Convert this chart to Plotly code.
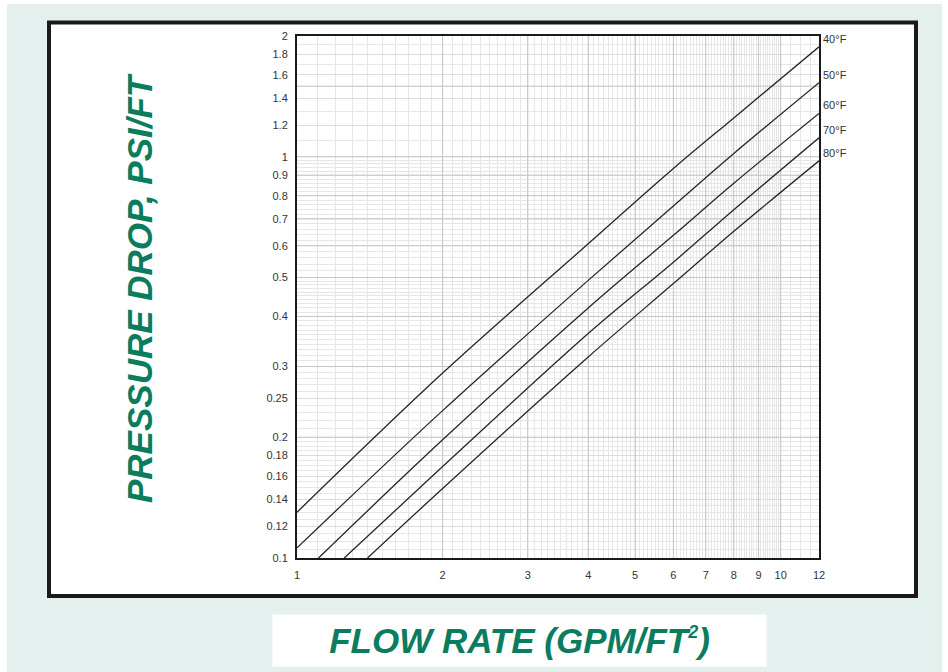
import numpy as np
import plotly.graph_objects as go

# Pressure drop curves (psi/ft) against flow rate (gpm/ft²) for each water temperature
temps = ["40°F", "50°F", "60°F", "70°F", "80°F"]
flow_40 = [1, 2, 4, 6, 8, 12]
dp_40 = [0.130, 0.289, 0.607, 0.935, 1.25, 1.88]
flow_50 = [1, 2, 4, 6, 8, 12]
dp_50 = [0.106, 0.233, 0.492, 0.754, 1.019, 1.53]
flow_60 = [1.108, 2, 4, 6, 8, 12]
dp_60 = [0.1, 0.197, 0.420, 0.637, 0.859, 1.282]
flow_70 = [1.252, 2, 4, 6, 8, 12]
dp_70 = [0.1, 0.169, 0.3625, 0.546, 0.738, 1.115]
flow_80 = [1.399, 2, 4, 6, 8, 12]
dp_80 = [0.1, 0.149, 0.317, 0.483, 0.652, 0.977]

flows = [flow_40, flow_50, flow_60, flow_70, flow_80]
drops = [dp_40, dp_50, dp_60, dp_70, dp_80]

x_ticks = [1, 2, 3, 4, 5, 6, 7, 8, 9, 10, 12]
y_ticks = [0.1, 0.12, 0.14, 0.16, 0.18, 0.2, 0.25, 0.3, 0.4, 0.5, 0.6, 0.7,
           0.8, 0.9, 1, 1.2, 1.4, 1.6, 1.8, 2]
x_range = (1, 12)
y_range = (0.1, 2)

# graph-paper grid levels
x_minor = [v for v in np.round(np.concatenate([np.arange(1.1, 10, 0.1), [10.5, 11, 11.5]]), 3)
           if v not in x_ticks]
y_minor = [v for v in np.round(np.concatenate([np.arange(0.105, 0.2, 0.005),
                                               np.arange(0.21, 0.5, 0.01),
                                               np.arange(0.52, 1.0, 0.02),
                                               np.arange(1.1, 2.0, 0.1)]), 3)
           if v not in y_ticks]
x_heavy = [2, 3, 4, 5, 6, 7, 8, 9, 10]
y_heavy = [0.2, 0.3, 0.4, 0.5, 0.6, 0.7, 0.8, 0.9, 1, 1.5]

W, H = 948, 672
ML, MR, MT, MB = 297, 129, 36, 114
PW, PH = W - ML - MR, H - MT - MB

def px(xp):
    return (xp - ML) / PW

def py(yp):
    return (H - MB - yp) / PH

GREEN = "#0b7c5d"
FONT = "Arial, Liberation Sans, sans-serif"

fig = go.Figure()

# heavier graph-paper rulings at the main divisions
gx, gy = [], []
for v in x_heavy:
    gx += [v, v, None]
    gy += [y_range[0], y_range[1], None]
for v in y_heavy:
    gx += [x_range[0], x_range[1], None]
    gy += [v, v, None]
fig.add_trace(go.Scatter(x=gx, y=gy, mode="lines", line=dict(color="#c6c6c6", width=1),
                         showlegend=False, hoverinfo="skip"))

for f, d in zip(flows, drops):
    fig.add_trace(go.Scatter(x=f, y=d, mode="lines",
                             line=dict(color="#262626", width=1.3, shape="spline", smoothing=1),
                             showlegend=False, hoverinfo="skip"))

shapes = [
    # panel background and framed card
    dict(type="rect", xref="paper", yref="paper", x0=px(7), x1=px(942), y0=py(4), y1=py(680),
         fillcolor="#e4f0ee", line=dict(width=0), layer="below"),
    dict(type="rect", xref="paper", yref="paper", x0=px(49), x1=px(916), y0=py(22.5), y1=py(596),
         fillcolor="white", line=dict(color="#1a1a1a", width=4), layer="below"),
]

annotations = []
for name, f, d in zip(temps, flows, drops):
    annotations.append(dict(x=np.log10(f[-1]), y=np.log10(d[-1]), xref="x", yref="y",
                            text=name, showarrow=False, xanchor="left", yanchor="middle",
                            xshift=2, yshift=8, font=dict(family=FONT, size=11, color="#333")))

annotations.append(dict(
    xref="paper", yref="paper", x=px(139), y=py(288), text="PRESSURE DROP, PSI/FT",
    textangle=-90, showarrow=False, xanchor="center", yanchor="middle",
    font=dict(family=FONT, size=35, color=GREEN, weight="bold", style="italic")))
annotations.append(dict(
    xref="paper", yref="paper", x=px(519.5), y=py(640.5),
    text="FLOW RATE (GPM/FT<sup><span style='font-size:18px'>2</span></sup>)",
    showarrow=False, xanchor="center", yanchor="middle", width=493, height=51,
    bgcolor="white", borderpad=0,
    font=dict(family=FONT, size=35, color=GREEN, weight="bold", style="italic")))

fig.update_layout(
    width=W, height=H, margin=dict(l=ML, r=MR, t=MT, b=MB),
    paper_bgcolor="white", plot_bgcolor="white",
    shapes=shapes, annotations=annotations,
    xaxis=dict(type="log", range=[np.log10(x_range[0]), np.log10(x_range[1])],
               tickvals=x_ticks, ticktext=[str(v) for v in x_ticks],
               showgrid=True, gridcolor="#dcdcdc", gridwidth=1,
               minor=dict(tickvals=x_minor, showgrid=True, gridcolor="#e6e6e6", gridwidth=1, ticks=""),
               showline=True, linecolor="#1a1a1a", linewidth=2, mirror=True,
               ticks="", ticklabelstandoff=6, zeroline=False,
               tickfont=dict(family=FONT, size=11, color="#333")),
    yaxis=dict(type="log", range=[np.log10(y_range[0]), np.log10(y_range[1])],
               tickvals=y_ticks, ticktext=[f"{v:g}" for v in y_ticks],
               showgrid=True, gridcolor="#dcdcdc", gridwidth=1,
               minor=dict(tickvals=y_minor, showgrid=True, gridcolor="#e6e6e6", gridwidth=1, ticks=""),
               showline=True, linecolor="#1a1a1a", linewidth=2, mirror=True,
               ticks="", ticklabelstandoff=5, zeroline=False,
               tickfont=dict(family=FONT, size=11, color="#333")),
)

fig.write_html("out.html")
